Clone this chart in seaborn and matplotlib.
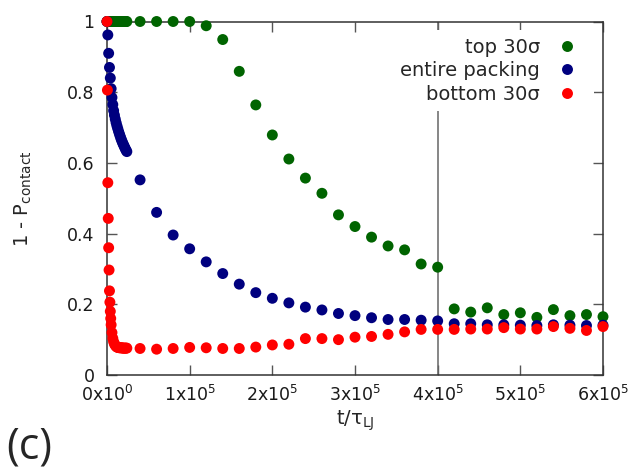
import numpy as np
import pandas as pd
import matplotlib
matplotlib.use("Agg")
import matplotlib.pyplot as plt
import seaborn as sns

# --- data -------------------------------------------------------------
series_names = ["top 30σ", "entire packing", "bottom 30σ"]
series_colors = ["#006400", "#00007f", "#ff0000"]

t_top = [0, 1000, 2000, 3000, 4000, 5000, 6000, 7000, 8000, 9000, 10000,
         11000, 12000, 13000, 14000, 15000, 16000, 17000, 18000, 19000,
         20000, 21000, 22000, 23000, 24000,
         40000, 60000, 80000, 100000, 120000, 140000, 160000, 180000,
         200000, 220000, 240000, 260000, 280000, 300000, 320000, 340000,
         360000, 380000, 400000, 420000, 440000, 460000, 480000, 500000,
         520000, 540000, 560000, 580000, 600000]
p_top = [1.0] * 25 + [
    1.0, 1.0, 1.0, 1.0, 0.988, 0.949, 0.859, 0.764,
    0.679, 0.611, 0.557, 0.514, 0.453, 0.420, 0.390, 0.365,
    0.354, 0.314, 0.305, 0.187, 0.178, 0.190, 0.171, 0.176,
    0.163, 0.185, 0.168, 0.171, 0.165]

t_all = list(t_top)
p_all = [1.0, 0.962, 0.910, 0.870, 0.840, 0.810, 0.785, 0.765, 0.748,
         0.735, 0.724, 0.714, 0.705, 0.697, 0.689, 0.682, 0.675, 0.668,
         0.662, 0.656, 0.651, 0.646, 0.641, 0.636, 0.632,
         0.552, 0.460, 0.396, 0.357, 0.320, 0.287, 0.257, 0.233,
         0.217, 0.204, 0.192, 0.184, 0.174, 0.168, 0.162, 0.157,
         0.157, 0.155, 0.153, 0.145, 0.145, 0.142, 0.142, 0.141,
         0.140, 0.142, 0.141, 0.140, 0.141]

t_bot = [0, 500, 1000, 1500, 2000, 2500, 3000, 3500, 4000, 4500, 5000,
         6000, 7000, 8000, 9000, 10000, 11000, 12000, 13000, 14000, 15000,
         16000, 17000, 18000, 19000, 20000, 21000, 22000, 23000, 24000,
         40000, 60000, 80000, 100000, 120000, 140000, 160000, 180000,
         200000, 220000, 240000, 260000, 280000, 300000, 320000, 340000,
         360000, 380000, 400000, 420000, 440000, 460000, 480000, 500000,
         520000, 540000, 560000, 580000, 600000]
p_bot = [1.0, 0.806, 0.544, 0.443, 0.360, 0.297, 0.238, 0.206, 0.180,
         0.160, 0.142, 0.120, 0.104, 0.094, 0.088, 0.084, 0.081, 0.079,
         0.078, 0.078, 0.077, 0.077, 0.077, 0.077, 0.076, 0.076, 0.076,
         0.076, 0.076, 0.076,
         0.075, 0.073, 0.075, 0.078, 0.077, 0.075, 0.075, 0.079,
         0.085, 0.087, 0.103, 0.103, 0.100, 0.107, 0.109, 0.115,
         0.122, 0.129, 0.129, 0.129, 0.130, 0.130, 0.134, 0.130,
         0.130, 0.137, 0.132, 0.126, 0.137]

x_ticks = [0, 100000, 200000, 300000, 400000, 500000, 600000]
x_tick_labels = ["0x10$^{0}$", "1x10$^{5}$", "2x10$^{5}$", "3x10$^{5}$",
                 "4x10$^{5}$", "5x10$^{5}$", "6x10$^{5}$"]
y_ticks = [0, 0.2, 0.4, 0.6, 0.8, 1.0]
y_tick_labels = ["0", "0.2", "0.4", "0.6", "0.8", "1"]

df = pd.concat([
    pd.DataFrame({"t": t_top, "p": p_top, "region": series_names[0]}),
    pd.DataFrame({"t": t_all, "p": p_all, "region": series_names[1]}),
    pd.DataFrame({"t": t_bot, "p": p_bot, "region": series_names[2]}),
], ignore_index=True)

# --- style ------------------------------------------------------------
sns.set_theme(style="ticks")
plt.rcParams["font.family"] = ["DejaVu Sans"]
plt.rcParams["mathtext.fontset"] = "dejavusans"
fs = 12.5
fs_big = 14

fig = plt.figure(figsize=(6.34, 4.72), dpi=100)
ax = fig.add_axes([107 / 634, 1 - 375 / 472, 496 / 634, 353.5 / 472])

# reference line at t = 4x10^5
ax.axvline(400000, color="#666666", lw=1.1, zorder=1)

sns.scatterplot(data=df, x="t", y="p", hue="region",
                hue_order=series_names,
                palette=dict(zip(series_names, series_colors)),
                s=62, linewidth=0, ax=ax, clip_on=False, zorder=3,
                legend=True)

ax.set_xlim(0, 600000)
ax.set_ylim(0, 1)
ax.set_xticks(x_ticks)
ax.set_xticklabels(x_tick_labels, fontsize=fs)
ax.set_yticks(y_ticks)
ax.set_yticklabels(y_tick_labels, fontsize=fs)
ax.tick_params(direction="in", length=7, width=1, color="#555555",
               top=True, right=True, labelcolor="#1a1a1a")
ax.tick_params(axis="x", pad=7)
ax.tick_params(axis="y", pad=9)
for sp in ax.spines.values():
    sp.set_color("#333333")
    sp.set_linewidth(1.1)

ax.set_xlabel("t/τ$_{\\mathrm{LJ}}$", fontsize=fs_big, labelpad=3)
ax.set_ylabel("1 - P$_{\\mathrm{contact}}$", fontsize=fs_big, labelpad=24)

sns.move_legend(ax, "upper right", title=None, markerfirst=False,
                frameon=True, fontsize=fs_big, handletextpad=0.4,
                labelspacing=0.22, borderaxespad=0.45, borderpad=0.4,
                markerscale=1.0)
leg = ax.get_legend()
leg.get_frame().set_facecolor("white")
leg.get_frame().set_edgecolor("none")
leg.get_frame().set_alpha(1.0)
leg.set_zorder(5)

fig.text(6 / 634, 1 - 470 / 472, "(c)", fontsize=31,
         family=["Open Sans", "DejaVu Sans"], ha="left", va="bottom")

fig.savefig("out.png", dpi=100)
